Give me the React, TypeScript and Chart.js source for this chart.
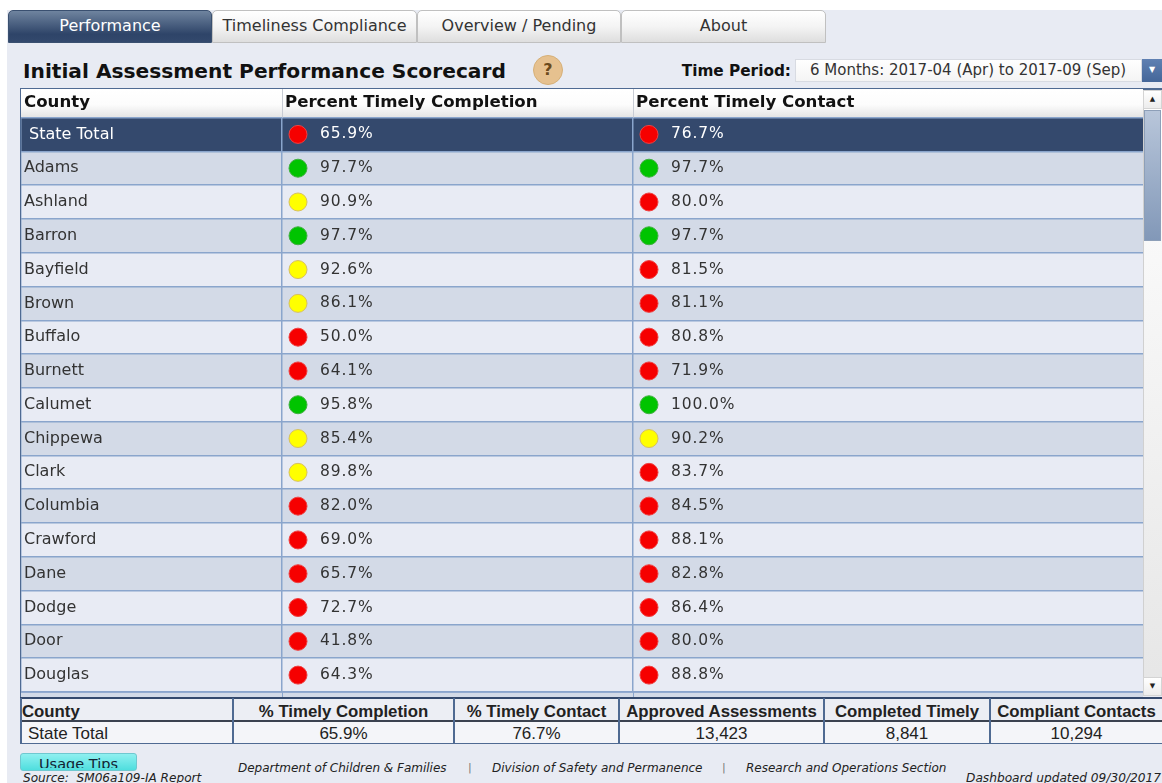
import React, { useEffect, useRef } from "react";
import { Chart, registerables } from "chart.js";

Chart.register(...registerables);

const counties = ["State Total", "Adams", "Ashland", "Barron", "Bayfield", "Brown", "Buffalo", "Burnett", "Calumet", "Chippewa", "Clark", "Columbia", "Crawford", "Dane", "Dodge", "Door", "Douglas"];
const timelyCompletion = [65.9, 97.7, 90.9, 97.7, 92.6, 86.1, 50.0, 64.1, 95.8, 85.4, 89.8, 82.0, 69.0, 65.7, 72.7, 41.8, 64.3];
const timelyContact = [76.7, 97.7, 80.0, 97.7, 81.5, 81.1, 80.8, 71.9, 100.0, 90.2, 83.7, 84.5, 88.1, 82.8, 86.4, 80.0, 88.8];
const completionStatus = ["r", "g", "y", "g", "y", "y", "r", "r", "g", "y", "y", "r", "r", "r", "r", "r", "r"];
const contactStatus = ["r", "g", "r", "g", "r", "r", "r", "r", "g", "y", "r", "r", "r", "r", "r", "r", "r"];
const columnHeaders = ["County", "Percent Timely Completion", "Percent Timely Contact"];
const columnStarts = [0, 261, 612];
const summaryHeaders = ["County", "% Timely Completion", "% Timely Contact", "Approved Assessments", "Completed Timely", "Compliant Contacts"];
const summaryValues = ["State Total", "65.9%", "76.7%", "13,423", "8,841", "10,294"];

const TABLE_WIDTH = 1122;
const DOT_INSET = 16;
const fillOf: Record<string, string> = { r: "#f60000", g: "#00c400", y: "#ffff00" };
const edgeOf: Record<string, string> = { r: "#f04040", g: "#40b040", y: "#d8c060" };
const SANS = '"DejaVu Sans", Verdana, sans-serif';
const ARIAL = '"Liberation Sans", Arial, sans-serif';

const zeroPadding = (s: any) => {
  s.paddingLeft = 0;
  s.paddingRight = 0;
  s.paddingTop = 0;
  s.paddingBottom = 0;
};

const tablePlugin = {
  id: "tablePlugin",
  beforeDraw(chart: any) {
    const { ctx, chartArea, scales } = chart;
    const yS = scales.y;
    const h = yS.getPixelForValue(1) - yS.getPixelForValue(0);
    ctx.save();
    const grad = ctx.createLinearGradient(0, 0, 0, chartArea.top);
    grad.addColorStop(0, "#ffffff");
    grad.addColorStop(0.55, "#fcfcfc");
    grad.addColorStop(1, "#e4e4e4");
    ctx.fillStyle = grad;
    ctx.fillRect(0, 0, chart.width, chartArea.top);
    counties.forEach((_, i) => {
      const c = yS.getPixelForValue(i);
      ctx.fillStyle = i === 0 ? "#34496d" : i % 2 === 1 ? "#d3dae7" : "#e8ebf4";
      ctx.fillRect(chartArea.left, c - h / 2, chartArea.width, h);
    });
    ctx.fillStyle = "#d3dae7";
    ctx.fillRect(chartArea.left, chartArea.bottom, chartArea.width, chart.height - chartArea.bottom);
    ctx.restore();
  },
  afterDraw(chart: any) {
    const { ctx, chartArea, scales } = chart;
    ctx.save();
    ctx.lineWidth = 1;
    columnStarts.slice(1).forEach((v) => {
      const x = Math.round(scales.x.getPixelForValue(v)) + 0.5;
      ctx.strokeStyle = "#c8ccd4";
      ctx.beginPath();
      ctx.moveTo(x, 0);
      ctx.lineTo(x, chartArea.top);
      ctx.stroke();
      ctx.strokeStyle = "#8aa5cc";
      ctx.beginPath();
      ctx.moveTo(x, chartArea.bottom);
      ctx.lineTo(x, chart.height);
      ctx.stroke();
    });
    ctx.strokeStyle = "#8aa5cc";
    ctx.lineWidth = 1.5;
    ctx.beginPath();
    ctx.moveTo(0, chartArea.bottom);
    ctx.lineTo(chart.width, chartArea.bottom);
    ctx.stroke();
    ctx.restore();
  },
  afterDatasetsDraw(chart: any) {
    const { ctx } = chart;
    ctx.save();
    ctx.font = `15.5px ${SANS}`;
    (ctx as any).letterSpacing = "0.9px";
    ctx.textBaseline = "middle";
    ctx.textAlign = "left";
    chart.data.datasets.forEach((ds: any, d: number) => {
      chart.getDatasetMeta(d).data.forEach((pt: any, i: number) => {
        ctx.fillStyle = i === 0 ? "#ffffff" : "#333333";
        ctx.fillText(`${ds.data[i].value.toFixed(1)}%`, pt.x + 22, pt.y);
      });
    });
    ctx.restore();
  },
};

const abs = (left: number, top: number, width: number, height: number, extra: React.CSSProperties = {}): React.CSSProperties => ({
  position: "absolute",
  left,
  top,
  width,
  height,
  boxSizing: "border-box",
  ...extra,
});

const tabs: [string, number, number][] = [
  ["Performance", 8, 204],
  ["Timeliness Compliance", 212, 205],
  ["Overview / Pending", 417, 204],
  ["About", 621, 205],
];
const summaryEdges = [20, 232, 453, 618, 823, 989, 1162];

export default function App() {
  const ref = useRef<HTMLCanvasElement>(null);
  useEffect(() => {
    const toPoints = (vals: number[], col: number) =>
      vals.map((value, i) => ({ x: columnStarts[col] + DOT_INSET, y: counties[i], value }));
    const chart = new Chart(ref.current!, {
      type: "scatter",
      data: {
        labels: counties,
        datasets: [
          {
            label: columnHeaders[1],
            data: toPoints(timelyCompletion, 1),
            pointRadius: 9,
            pointBorderWidth: 1,
            pointBackgroundColor: completionStatus.map((s) => fillOf[s]),
            pointBorderColor: completionStatus.map((s) => edgeOf[s]),
          },
          {
            label: columnHeaders[2],
            data: toPoints(timelyContact, 2),
            pointRadius: 9,
            pointBorderWidth: 1,
            pointBackgroundColor: contactStatus.map((s) => fillOf[s]),
            pointBorderColor: contactStatus.map((s) => edgeOf[s]),
          },
        ],
      } as any,
      options: {
        animation: false,
        responsive: false,
        events: [],
        layout: { autoPadding: false, padding: { left: 0, right: 0, top: 0, bottom: 5 } },
        plugins: { legend: { display: false }, tooltip: { enabled: false } },
        scales: {
          x: {
            type: "linear",
            position: "top",
            min: 0,
            max: TABLE_WIDTH,
            afterBuildTicks: (s: any) => {
              s.ticks = columnStarts.map((value) => ({ value }));
            },
            afterFit: (s: any) => {
              s.height = 28.5;
              zeroPadding(s);
            },
            grid: { color: "#8aa5cc", drawTicks: false, lineWidth: 1.5 },
            border: { display: false },
            ticks: {
              autoSkip: false,
              maxRotation: 0,
              align: "start",
              labelOffset: 3,
              padding: 5,
              color: "#111111",
              font: { family: SANS, size: 16.6, weight: "bold" },
              callback: (v: any) => columnHeaders[columnStarts.indexOf(v)],
            },
          },
          y: {
            type: "category",
            labels: counties,
            offset: true,
            afterFit: (s: any) => {
              s.width = 0;
              zeroPadding(s);
            },
            grid: { color: "#8aa5cc", offset: true, drawTicks: false, lineWidth: 1.5 },
            border: { display: false },
            ticks: {
              mirror: true,
              autoSkip: false,
              padding: 3,
              font: { family: SANS, size: 16 },
              color: (c: any) => (c.index === 0 ? "#ffffff" : "#333333"),
              callback: (v: any, i: number) => (i === 0 ? "\u00a0" + counties[i] : counties[i]),
            },
          },
        },
      } as any,
      plugins: [tablePlugin],
    });
    return () => chart.destroy();
  }, []);

  return (
    <div style={abs(0, 0, 1162, 783, { overflow: "hidden", background: "#ffffff", fontFamily: SANS, filter: "blur(0.35px)" })}>
      <div style={abs(7, 10, 1155, 773, { background: "#e8ebf3" })} />
      {tabs.map(([t, x, w], i) => (
        <div
          key={t}
          style={abs(x, 10, w, 33, {
            background: i === 0 ? "linear-gradient(#6f849f, #2e4468 75%, #33496d)" : "linear-gradient(#ffffff, #f4f4f4 50%, #dedede)",
            border: i === 0 ? "1px solid #3a5070" : "1px solid #c0c0c0",
            borderRadius: "5px 5px 0 0",
            color: i === 0 ? "#ffffff" : "#333333",
            fontSize: 16,
            lineHeight: "30px",
            textAlign: "center",
            whiteSpace: "nowrap",
          })}
        >
          {t}
        </div>
      ))}
      <div style={abs(23, 58, 500, 26, { fontSize: 20.2, fontWeight: "bold", lineHeight: "26px", color: "#111", whiteSpace: "nowrap" })}>
        Initial Assessment Performance Scorecard
      </div>
      <div style={abs(533, 55, 30, 30, { borderRadius: "50%", background: "#e6c18f", border: "1px solid #d6b078", color: "#6b4a1c", fontWeight: "bold", fontSize: 16, lineHeight: "28px", textAlign: "center" })}>
        ?
      </div>
      <div style={abs(660, 60, 131, 22, { fontSize: 15.3, fontWeight: "bold", lineHeight: "22px", textAlign: "right", color: "#111", whiteSpace: "nowrap" })}>
        Time Period:
      </div>
      <div style={abs(795, 59, 347, 23, { background: "linear-gradient(#ffffff, #f4f4f4)", border: "1px solid #d8dbe2", fontSize: 15, lineHeight: "21px", paddingLeft: 14, color: "#333", whiteSpace: "nowrap" })}>
        6 Months: 2017-04 (Apr) to 2017-09 (Sep)
      </div>
      <div style={abs(1142, 59, 20, 23, { background: "linear-gradient(#5f80b2, #446699)", color: "#fff", fontSize: 8, lineHeight: "22px", textAlign: "center" })}>▼</div>

      <div style={abs(20, 88, 1142, 2, { background: "#4f6a92" })} />
      <div style={abs(20, 88, 2, 610, { background: "#4f6a92" })} />
      <canvas ref={ref} width={TABLE_WIDTH} height={608} style={{ position: "absolute", left: 21, top: 89, display: "block" }} />

      <div style={abs(1143, 90, 19, 606, { background: "linear-gradient(#ffffff, #e6e6e6)", borderLeft: "1px solid #d0d0d0" })} />
      <div style={abs(1143, 90, 19, 19, { background: "linear-gradient(#ffffff, #ececec)", border: "1px solid #d4d4d4", fontSize: 7, lineHeight: "17px", textAlign: "center", color: "#222" })}>▲</div>
      <div style={abs(1144, 110, 17, 131, { background: "linear-gradient(#b8c6da, #8298b8)", border: "1px solid #8d9fb8" })} />
      <div style={abs(1143, 677, 19, 19, { background: "linear-gradient(#ffffff, #ececec)", border: "1px solid #d4d4d4", fontSize: 7, lineHeight: "17px", textAlign: "center", color: "#222" })}>▼</div>

      <div style={abs(20, 697, 1142, 2, { background: "#34496d" })} />
      <div style={abs(20, 699, 1142, 22, { background: "#eceef4" })} />
      <div style={abs(20, 721, 1142, 22, { background: "#f4f5f9" })} />
      <div style={abs(20, 720, 1142, 2, { background: "#3b4250" })} />
      <div style={abs(20, 743, 1142, 1, { background: "#4f6a92" })} />
      {summaryEdges.slice(0, 6).map((x) => (
        <div key={x} style={abs(x, 698, 2, 46, { background: "#4f6a92" })} />
      ))}
      {summaryHeaders.map((t, i) => (
        <div
          key={t}
          style={abs(summaryEdges[i] + 2, 699, summaryEdges[i + 1] - summaryEdges[i] - 2, 21, {
            fontFamily: ARIAL,
            fontSize: 16.8,
            fontWeight: "bold",
            lineHeight: "25px",
            overflow: "hidden",
            whiteSpace: "nowrap",
            color: "#222",
            textAlign: i === 0 ? "left" : "center",
          })}
        >
          {t}
        </div>
      ))}
      {summaryValues.map((t, i) => (
        <div
          key={t}
          style={abs(summaryEdges[i] + 2, 722, summaryEdges[i + 1] - summaryEdges[i] - 2, 21, {
            fontFamily: ARIAL,
            fontSize: 17,
            lineHeight: "24px",
            whiteSpace: "nowrap",
            color: "#222",
            paddingLeft: i === 0 ? 6 : 0,
            textAlign: i === 0 ? "left" : "center",
          })}
        >
          {t}
        </div>
      ))}

      <div style={abs(20, 753, 117, 18, { background: "linear-gradient(#8ff0f0, #4fdede)", border: "1px solid #6fc8d0", borderRadius: 3, overflow: "hidden", fontSize: 14.5, textAlign: "center", color: "#123" })}>
        <div style={{ height: 14, overflow: "hidden", lineHeight: "20px" }}>Usage Tips</div>
      </div>
      <div style={abs(23, 771, 200, 12, { fontSize: 12.1, fontStyle: "italic", lineHeight: "15px", color: "#222", whiteSpace: "nowrap", overflow: "hidden" })}>Source:&nbsp; SM06a109-IA Report</div>
      <div style={abs(238, 760, 230, 16, { fontSize: 12, fontStyle: "italic", lineHeight: "16px", color: "#222", whiteSpace: "nowrap" })}>Department of Children &amp; Families</div>
      <div style={abs(468, 760, 6, 16, { fontSize: 11, lineHeight: "16px", color: "#777" })}>|</div>
      <div style={abs(492, 760, 230, 16, { fontSize: 12, fontStyle: "italic", lineHeight: "16px", color: "#222", whiteSpace: "nowrap" })}>Division of Safety and Permanence</div>
      <div style={abs(722, 760, 6, 16, { fontSize: 11, lineHeight: "16px", color: "#777" })}>|</div>
      <div style={abs(746, 760, 230, 16, { fontSize: 12, fontStyle: "italic", lineHeight: "16px", color: "#222", whiteSpace: "nowrap" })}>Research and Operations Section</div>
      <div style={abs(966, 771, 196, 12, { fontSize: 12.2, fontStyle: "italic", lineHeight: "15px", color: "#222", whiteSpace: "nowrap", overflow: "hidden" })}>Dashboard updated 09/30/2017</div>
    </div>
  );
}
